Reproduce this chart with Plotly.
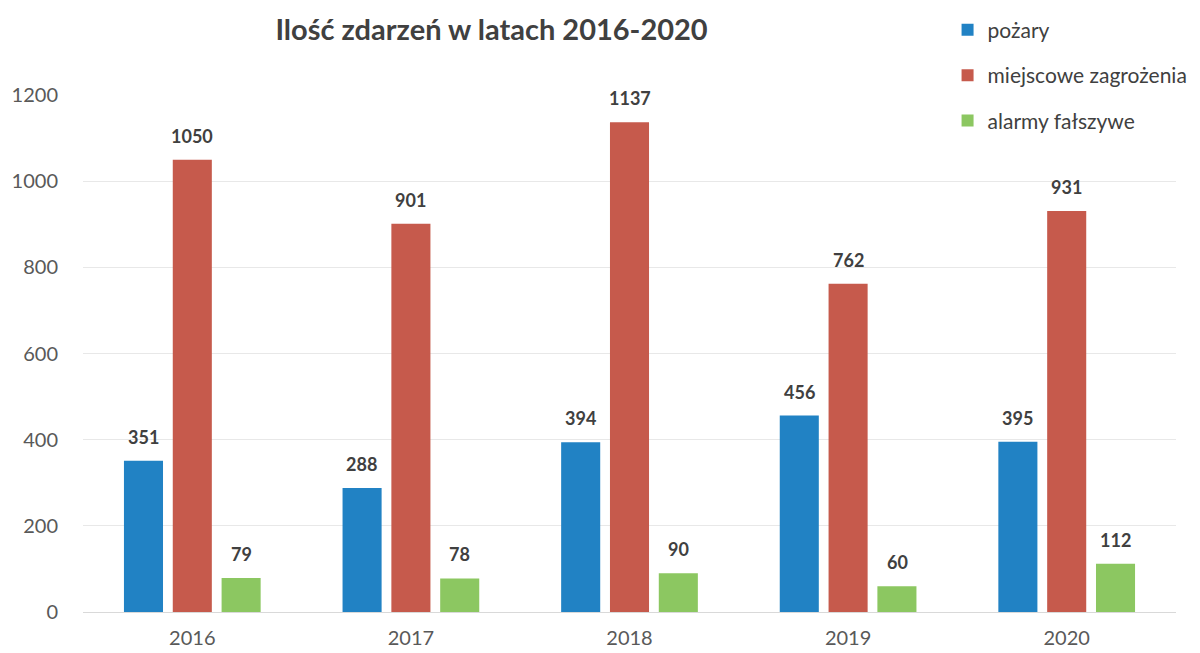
import plotly.graph_objects as go

years = ["2016", "2017", "2018", "2019", "2020"]
pozary = [351, 288, 394, 456, 395]
miejscowe = [1050, 901, 1137, 762, 931]
alarmy = [79, 78, 90, 60, 112]
series_names = ["pożary", "miejscowe zagrożenia", "alarmy fałszywe"]
colors = ["#2182C4", "#C65A4C", "#8CC761"]

FONT = "Lato"
fig = go.Figure()
all_vals = [pozary, miejscowe, alarmy]
for name, vals, col in zip(series_names, all_vals, colors):
    fig.add_trace(go.Bar(
        x=years, y=vals, name=name, legendgroup=name,
        marker=dict(color=col, line=dict(width=0)),
    ))

# value labels above each bar (category index on the x scale, pixel shift per series)
shifts = [-49, 0, 49]
for vals, sh in zip(all_vals, shifts):
    for i, v in enumerate(vals):
        fig.add_annotation(x=i, y=v, xref="x", yref="y", text=f"<b>{v}</b>",
                           showarrow=False, xshift=sh, yshift=24, yanchor="middle",
                           font=dict(family=FONT, size=18, color="#404040"))

fig.update_layout(
    width=1200, height=653,
    paper_bgcolor="white", plot_bgcolor="white",
    margin=dict(l=75, r=32, t=87, b=49, autoexpand=False),
    barmode="group", bargap=0.33, bargroupgap=0.2,
    title=dict(text="<b>Ilość zdarzeń w latach 2016-2020</b>",
               x=0.403, xanchor="center", y=0.966, yanchor="middle",
               font=dict(family=FONT, size=29, color="#404040")),
    legend=dict(x=0.791, y=1.165, xanchor="left", yanchor="top",
                font=dict(family=FONT, size=21, color="#404040"),
                traceorder="grouped", tracegroupgap=15,
                bgcolor="rgba(0,0,0,0)"),
    showlegend=True,
    font=dict(family=FONT),
)
fig.update_yaxes(range=[0, 1200], dtick=200, showgrid=True, gridcolor="#E8E8E8",
                 gridwidth=1, zeroline=False, showline=False,
                 tickfont=dict(family=FONT, size=20, color="#595959"),
                 ticklabelstandoff=24)
fig.update_xaxes(type="category", range=[-0.5, len(years) - 0.5],
                 showline=True, linecolor="#D9D9D9", linewidth=1,
                 tickfont=dict(family=FONT, size=20, color="#595959"),
                 ticks="", ticklabelstandoff=8)

fig.write_html("out.html")
